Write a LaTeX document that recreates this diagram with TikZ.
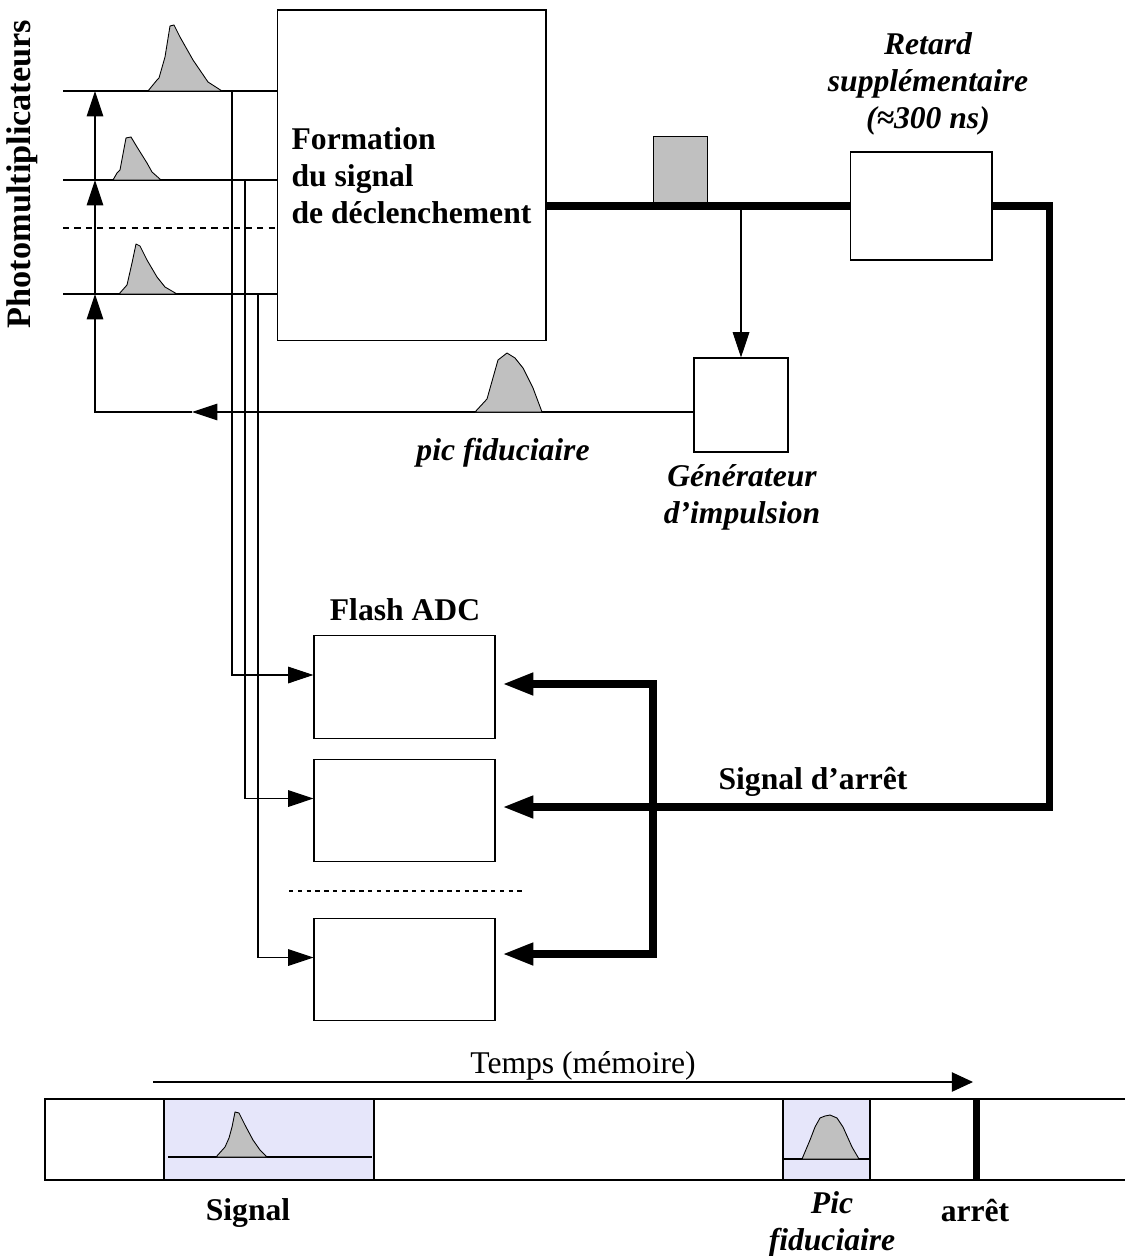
\documentclass[tikz,border=0pt]{standalone}
\usepackage{fontspec}
\setmainfont{Liberation Serif}
\usetikzlibrary{arrows.meta,calc}
\definecolor{pulsegray}{RGB}{192,192,192}
\definecolor{memlav}{RGB}{230,230,250}

\begin{document}
\begin{tikzpicture}[x=.02cm,y=-.02cm,
  txt/.style={font=\fontsize{18}{21}\selectfont\bfseries,inner sep=0pt,align=center},
  itxt/.style={txt,font=\fontsize{18}{21}\selectfont\bfseries\itshape},
  blk/.style={draw,line width=.6pt,fill=white,inner sep=0pt},
  sig/.style={line width=.6pt},
  arr/.style={sig,-{Triangle[length=14.5pt,width=9.5pt]}},
  stopln/.style={line width=4pt,line join=miter},
  stoparr/.style={stopln,-{Triangle[length=17.5pt,width=12pt]}},
  pulse/.style={draw,fill=pulsegray,line width=.5pt,line join=round}]
\useasboundingbox (0,0) rectangle (1125,1256);
\coordinate (pm1) at (63,91);
\coordinate (pm2) at (63,180);
\coordinate (pm3) at (63,294);
\coordinate (pmd) at (63,228);
\coordinate (up1) at (95,91);
\coordinate (up2) at (95,180);
\coordinate (up3) at (95,294);
\coordinate (fb) at (95,412);
\coordinate (fbm) at (192,412);
\coordinate (tap1) at (232,91);
\coordinate (tap2) at (245,180);
\coordinate (tap3) at (258,294);
\coordinate (rt) at (1049,807);
\coordinate (bus1) at (653,684);
\coordinate (bus3) at (653,954);
\node[blk,minimum width=5.38cm,minimum height=6.62cm,txt,align=left] (trig) at (411.5,175.5) {Formation\\du signal\\de déclenchement};
\node[blk,minimum width=2.84cm,minimum height=2.16cm] (dly) at (921,206) {};
\node[blk,minimum width=1.88cm,minimum height=1.88cm] (gen) at (741,405) {};
\node[blk,minimum width=3.62cm,minimum height=2.05cm] (fadc1) at (404.5,687) {};
\node[blk,minimum width=3.62cm,minimum height=2.05cm] (fadc2) at (404.5,810.5) {};
\node[blk,minimum width=3.62cm,minimum height=2.05cm] (fadc3) at (404.5,969.5) {};
\node[txt,rotate=90,font=\fontsize{19.5}{23}\selectfont\bfseries] (pmt) at (22,174) {Photomultiplicateurs};
\node[itxt] (dlylbl) at (928,84) {Retard\\supplémentaire\\(≈300 ns)};
\node[itxt] (fidlbl) at (503,453) {pic fiduciaire};
\node[itxt] (genlbl) at (742,497) {Générateur\\d’impulsion};
\node[txt] (fadclbl) at (405,610) {Flash ADC};
\node[txt] (stoplbl) at (813,782) {Signal d’arrêt};
\foreach \i in {1,2,3}
  \draw[sig] (pm\i) -- (trig.west |- pm\i);
\draw[sig,dash pattern=on 3.5pt off 3pt] (pmd) -- (trig.west |- pmd);
\filldraw[pulse] (148,91) -- (157,80) -- (159,78) -- (165,57) -- (170,26) -- (174,25) -- (180,37) -- (193,60) -- (208,82) -- (222,91) -- cycle;
\filldraw[pulse] (113,180) -- (117,173) -- (120,170) -- (126,138) -- (131,137) -- (137,147) -- (147,163) -- (152,172) -- (161,180) -- cycle;
\filldraw[pulse] (119,294) -- (127,285) -- (132,263) -- (136,244) -- (140,246) -- (147,260) -- (157,277) -- (165,287) -- (177,294) -- cycle;
\draw[arr] (tap1) |- ($(fadc1.west)+(0,-12)$);
\draw[arr] (tap2) |- ($(fadc2.west)+(0,-12)$);
\draw[arr] (tap3) |- ($(fadc3.west)+(0,-12)$);
\draw[arr] (gen.west |- fb) -- (fbm);
\draw[arr] (fbm) -- (fb) -- (up3);
\draw[arr] (up3) -- (up2);
\draw[arr] (up2) -- (up1);
\filldraw[pulse] (475,412) -- (487,399) -- (498,360) -- (507,353) -- (515,358) -- (523,368) -- (533,388) -- (542,412) -- cycle;
\filldraw[fill=pulsegray,line width=.5pt] (653,206) rectangle (707,136);
\draw[stopln] (trig.east |- dly.west) -- (dly.west);
\draw[arr] (gen.north |- dly.west) -- (gen.north);
\draw[stoparr,shorten >=4pt] (dly.east) -| (rt) -- (fadc2.east |- rt);
\draw[stopln,{Triangle[length=17.5pt,width=12pt]}-{Triangle[length=17.5pt,width=12pt]},shorten <=4pt,shorten >=4pt] (fadc1.east |- bus1) -- (bus1) -- (bus3) -- (fadc3.east |- bus3);
\draw[sig,dash pattern=on 2.5pt off 2.5pt] (289,891) -- (526,891);
\fill[memlav] (164,1099) rectangle (374,1180);
\fill[memlav] (783,1099) rectangle (870,1180);
\draw[sig] (1125,1099) -- (45,1099) -- (45,1180) -- (1125,1180);
\draw[sig] (164,1099) -- (164,1180) (374,1099) -- (374,1180);
\draw[sig] (783,1099) -- (783,1180) (870,1099) -- (870,1180);
\draw[sig] (168,1157) -- (372,1157);
\draw[sig] (783,1159) -- (870,1159);
\filldraw[pulse] (216,1157) -- (225,1147) -- (229,1138) -- (232,1127) -- (235,1112) -- (239,1113) -- (245,1125) -- (253,1140) -- (260,1150) -- (267,1157) -- cycle;
\filldraw[pulse] (802,1159) -- (810,1140) -- (815,1127) -- (820,1118) -- (825,1116) -- (830,1115) -- (837,1118) -- (843,1127) -- (852,1147) -- (859,1159) -- cycle;
\draw[line width=4pt] (976,1099) -- (976,1180);
\draw[sig,-{Triangle[length=12pt,width=11pt]}] (153,1082) -- (973,1082);
\node[txt,font=\fontsize{18}{21}\selectfont] (timelbl) at (583,1066) {Temps (mémoire)};
\node[txt] (siglbl) at (248,1213) {Signal};
\node[itxt] (piclbl) at (832,1224) {Pic\\fiduciaire};
\node[txt] (arrlbl) at (975,1210) {arrêt};
\end{tikzpicture}
\end{document}
